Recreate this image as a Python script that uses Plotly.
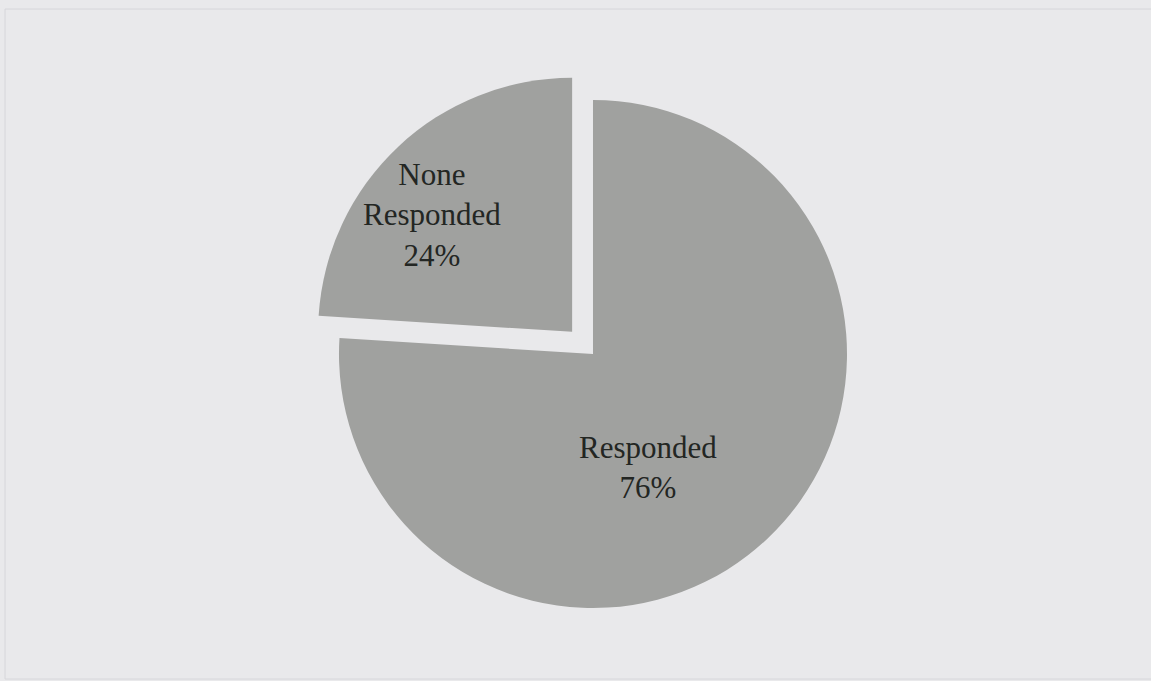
import plotly.graph_objects as go

# Survey response split
labels = ["Responded", "None Responded"]
values = [76, 24]
pulls = [0, 0.12]

W, H = 1151, 681
SERIF = "Liberation Serif, Times New Roman, serif"

fig = go.Figure(
    go.Pie(
        labels=labels,
        values=values,
        pull=pulls,
        sort=False,
        direction="clockwise",
        rotation=0,
        marker=dict(colors=["#a0a19f", "#a0a19f"], line=dict(width=0)),
        textinfo="none",
        showlegend=False,
        hoverinfo="label+percent",
        domain=dict(x=[0.2680, 0.7624], y=[0.0624, 0.8979]),
    )
)

# Slice labels: name over percentage, placed inside each slice
total = sum(values)
label_pos = [(0.563, 0.313), (0.3753, 0.684)]
for lab, val, (px, py) in zip(labels, values, label_pos):
    fig.add_annotation(
        x=px, y=py, xref="paper", yref="paper",
        text=lab.replace(" ", "<br>") + f"<br>{round(val / total * 100)}%",
        showarrow=False,
        font=dict(family=SERIF, size=31, color="#232623"),
        xanchor="center", yanchor="middle", align="center",
    )

# Thin outer frame
fig.add_shape(
    type="rect", xref="paper", yref="paper",
    x0=5 / W, x1=1.01, y0=1 - 679 / H, y1=1 - 9 / H,
    line=dict(color="#d6d6da", width=1),
)

fig.update_layout(
    width=W, height=H,
    margin=dict(l=0, r=0, t=0, b=0),
    paper_bgcolor="#e9e9eb",
    plot_bgcolor="#e9e9eb",
)

fig.write_html("out.html")
